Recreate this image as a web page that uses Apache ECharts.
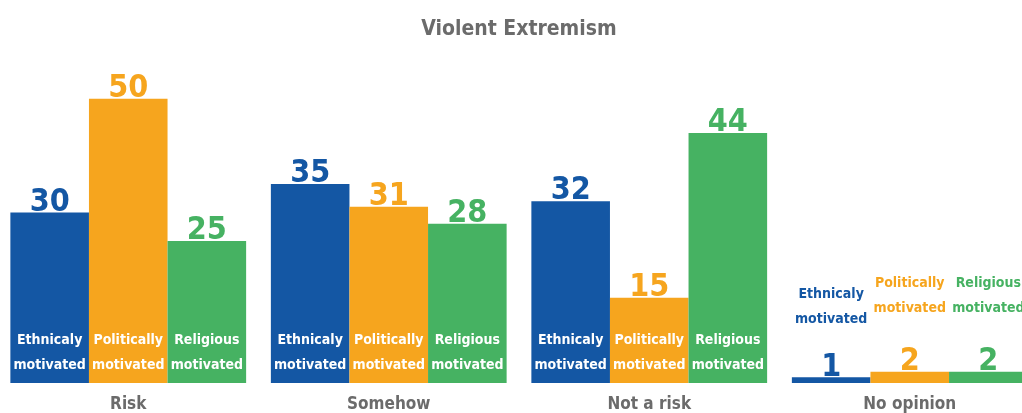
<!DOCTYPE html>
<html>
<head>
<meta charset="utf-8">
<script src="https://cdn.jsdelivr.net/npm/echarts@6/dist/echarts.min.js"></script>
<style>
  html, body { margin: 0; padding: 0; background: #ffffff; overflow: hidden; width: 1022px; height: 413px; position: relative; }
  /* the plot is slightly wider than the window so the outer bars touch the edges */
  #chart { position: absolute; left: -2px; top: 0; width: 1042px; height: 413px; }
</style>
</head>
<body>
<div id="chart"></div>
<script>
// Survey answers on violent extremism, by motivation type
const categories = ['Risk', 'Somehow', 'Not a risk', 'No opinion'];
const seriesNames = ['Ethnicaly\nmotivated', 'Politically\nmotivated', 'Religious\nmotivated'];
const ethnicValues = [30, 35, 32, 1];
const politicalValues = [50, 31, 15, 2];
const religiousValues = [25, 28, 44, 2];
const titleText = 'Violent Extremism';

const FONT = '"DejaVu Sans Condensed", sans-serif';
const colors = ['#1457a4', '#f6a51e', '#46b262'];
const valueSets = [ethnicValues, politicalValues, religiousValues];
// distance of the caption above short bars (last category)
const captionLift = [-45, -51, -51];

const chart = echarts.init(document.getElementById('chart'), null, { renderer: 'canvas' });

const xAxisBase = {
  type: 'category',
  data: categories,
  axisLine: { show: false },
  axisTick: { show: false }
};

const series = [];
valueSets.forEach((vals, i) => {
  // visible bars with the value on top
  series.push({
    type: 'bar',
    name: seriesNames[i],
    xAxisIndex: 0,
    data: vals,
    barGap: '0%',
    barCategoryGap: '9.5%',
    itemStyle: { color: colors[i] },
    label: {
      show: true,
      position: 'top',
      distance: 0,
      offset: [0, 6],
      color: colors[i],
      fontFamily: FONT,
      fontWeight: 'bold',
      fontSize: 32
    },
    z: 2
  });
  // transparent twin bars that carry the motivation caption
  series.push({
    type: 'bar',
    xAxisIndex: 1,
    data: vals.map((v, j) => {
      const item = { value: v };
      if (j === vals.length - 1) {
        item.label = {
          position: 'top',
          distance: 0,
          offset: [0, captionLift[i]],
          color: colors[i]
        };
      }
      return item;
    }),
    barGap: '0%',
    barCategoryGap: '9.5%',
    itemStyle: { color: 'rgba(0,0,0,0)' },
    label: {
      show: true,
      position: 'insideBottom',
      distance: 5,
      formatter: seriesNames[i],
      color: '#ffffff',
      fontFamily: FONT,
      fontWeight: 'bold',
      fontSize: 14,
      lineHeight: 25
    },
    silent: true,
    z: 3
  });
});

chart.setOption({
  animation: false,
  backgroundColor: '#ffffff',
  title: {
    text: titleText,
    left: 'center',
    top: 14,
    textStyle: {
      fontFamily: FONT,
      fontWeight: 'bold',
      fontSize: 21,
      color: '#6b6b6b'
    }
  },
  grid: { left: 0, right: 0, top: 42, bottom: 30, containLabel: false },
  xAxis: [
    Object.assign({}, xAxisBase, {
      axisLabel: {
        show: true,
        margin: 13,
        fontFamily: FONT,
        fontWeight: 'bold',
        fontSize: 17,
        color: '#6b6b6b'
      }
    }),
    Object.assign({}, xAxisBase, { show: false })
  ],
  yAxis: {
    type: 'value',
    min: 0,
    max: 60,
    show: false,
    splitLine: { show: false }
  },
  series: series
});
</script>
</body>
</html>
